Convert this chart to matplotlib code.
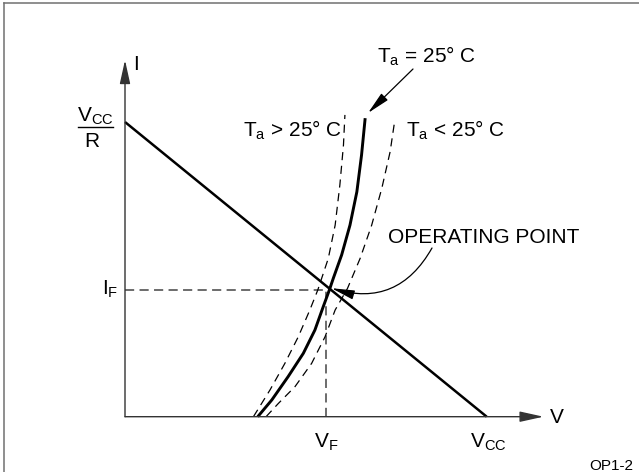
import matplotlib
matplotlib.use('Agg')
import matplotlib.pyplot as plt
from matplotlib.lines import Line2D

plt.rcParams['font.family'] = ['Liberation Sans', 'DejaVu Sans']
plt.rcParams['mathtext.fontset'] = 'custom'
plt.rcParams['mathtext.rm'] = 'Liberation Sans'
plt.rcParams['mathtext.it'] = 'Liberation Sans'

# load line I = (Vcc - V) / R, in diagram units (Vcc = 10, Vcc/R = 10)
vcc = 10.0
i_short = 10.0
v_load = [0.0, vcc]
i_load = [i_short, 0.0]

# forward characteristic, Ta = 25 C (solid)
v_25 = [3.67, 4.06, 4.51, 4.93, 5.25, 5.48, 5.65, 5.76, 5.99, 6.22, 6.41, 6.54, 6.64]
i_25 = [0.00, 0.57, 1.36, 2.15, 2.94, 3.73, 4.30, 4.70, 5.49, 6.50, 7.63, 8.88, 10.13]

# Ta > 25 C (dashed, left)
v_hot = [3.55, 4.01, 4.42, 4.79, 5.11, 5.33, 5.62, 5.81, 5.94, 6.04, 6.08]
i_hot = [0.00, 0.91, 1.81, 2.71, 3.62, 4.30, 5.37, 6.50, 7.86, 9.22, 10.24]

# Ta < 25 C (dashed, right)
v_cold = [3.90, 4.24, 4.70, 5.16, 5.53, 5.81, 6.15, 6.50, 6.82, 7.10, 7.33, 7.46]
i_cold = [0.00, 0.45, 1.02, 1.81, 2.71, 3.62, 4.35, 5.37, 6.50, 7.75, 8.99, 10.07]

# operating point
v_f = 5.57
i_f = 4.30

# axis extents
v_max = 11.57
i_max = 12.10

# pixel layout of the drawing (origin at 125,416.7 px, 36.17 px per V, 29.47 px per I)
W, H = 639, 472
X0, Y0 = 125.0, 416.7
SX, SY = 36.17, 29.47


def px(x, y):
    return (x - X0) / SX, (Y0 - y) / SY


fig = plt.figure(figsize=(W / 100, H / 100), dpi=100)
ax = fig.add_axes([0, 0, 1, 1])
ax.set_xlim(px(0, 0)[0], px(W, 0)[0])
ax.set_ylim(px(0, H)[1], px(0, 0)[1])
ax.axis('off')

# frame (top and left edges only)
fig.add_artist(Line2D([4 / W, 4 / W], [0, 1 - 3.3 / H], transform=fig.transFigure,
                      color='#707070', lw=1.1))
fig.add_artist(Line2D([4 / W, 1], [1 - 3.3 / H, 1 - 3.3 / H], transform=fig.transFigure,
                      color='#707070', lw=1.1))

axis_col = '#333333'
head = dict(arrowstyle='-|>,head_length=1.45,head_width=0.32', color=axis_col,
            lw=1.0, shrinkA=0, shrinkB=0, mutation_scale=10)
ax.annotate('', xy=(0, i_max), xytext=(0, 0), arrowprops=head)
ax.annotate('', xy=(v_max, 0), xytext=(0, 0), arrowprops=head)

# operating point guides
guide = dict(color='#444444', lw=1.1, dashes=(6, 3.5))
ax.plot([0, v_f + 0.1], [i_f, i_f], **guide)
ax.plot([v_f, v_f], [0, i_f], **guide)

# curves
ax.plot(v_hot, i_hot, color='black', lw=0.9, dashes=(6.5, 4.5))
ax.plot(v_cold, i_cold, color='black', lw=0.9, dashes=(6.5, 4.5))
ax.plot(v_25, i_25, color='black', lw=2.1, solid_capstyle='butt')
ax.plot(v_load, i_load, color='black', lw=1.8, solid_capstyle='butt')

fs = 15
ax.text(*px(133, 70), 'I', fontsize=fs, ha='left', va='baseline')
ax.text(*px(550, 423), 'V', fontsize=fs, ha='left', va='baseline')
ax.text(v_f, px(0, 448)[1], r'V$_{\mathrm{F}}$', fontsize=fs, ha='center', va='baseline')
ax.text(vcc + 0.05, px(0, 448)[1], r'V$_{\mathrm{CC}}$', fontsize=fs, ha='center', va='baseline')
ax.text(px(118, 0)[0], px(0, 295)[1], r'I$_{\mathrm{F}}$', fontsize=fs, ha='right', va='baseline')

# Vcc / R fraction
ax.text(px(95, 0)[0], px(0, 122)[1], r'V$_{\mathrm{CC}}$', fontsize=fs, ha='center', va='baseline')
ax.plot([px(78, 0)[0], px(113, 0)[0]], [px(0, 127)[1]] * 2, color='black', lw=1.0)
ax.text(px(92, 0)[0], px(0, 147)[1], 'R', fontsize=fs, ha='center', va='baseline')

ax.text(*px(243, 137), r'T$_{\mathrm{a}}$ > 25° C', fontsize=fs, ha='left', va='baseline')
ax.text(*px(406, 137), r'T$_{\mathrm{a}}$ < 25° C', fontsize=fs, ha='left', va='baseline')
ax.text(*px(377, 63), r'T$_{\mathrm{a}}$ = 25° C', fontsize=fs, ha='left', va='baseline')
ax.text(*px(388, 243), 'OPERATING POINT', fontsize=fs, ha='left', va='baseline')
ax.text(*px(633, 470), 'OP1-2', fontsize=11, ha='right', va='baseline')

pointer = dict(arrowstyle='-|>,head_length=1.4,head_width=0.28', color='black',
               lw=0.9, shrinkA=0, shrinkB=0, mutation_scale=10)
ax.annotate('', xy=px(368, 113), xytext=px(413, 69), arrowprops=pointer)
ax.annotate('', xy=(v_f + 0.14, i_f + 0.06), xytext=px(432, 248),
            arrowprops=dict(pointer, connectionstyle='arc3,rad=-0.4'))

fig.savefig('out.png', dpi=100)
